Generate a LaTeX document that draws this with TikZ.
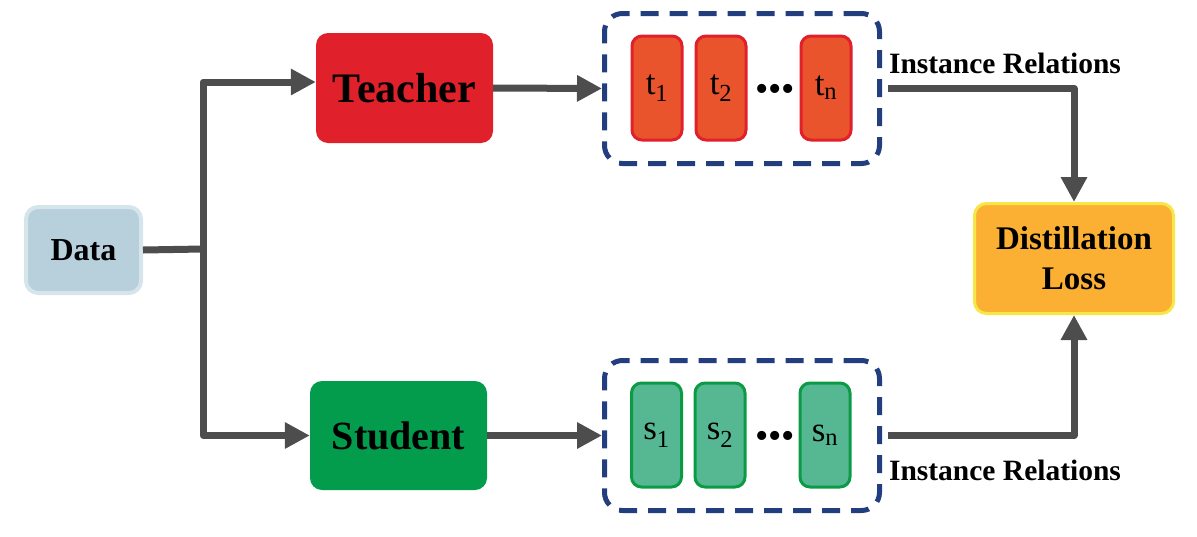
\documentclass[tikz,border=0pt]{standalone}
\usepackage{fontspec}
\setmainfont{Liberation Serif}
\usetikzlibrary{arrows.meta}
\definecolor{datafill}{HTML}{B8CFDC}
\definecolor{databorder}{HTML}{D6E5EC}
\definecolor{teacherred}{HTML}{E0212B}
\definecolor{tfill}{HTML}{E9542C}
\definecolor{studentgreen}{HTML}{039B4C}
\definecolor{sfill}{HTML}{55B893}
\definecolor{sborder}{HTML}{0B9B45}
\definecolor{lossfill}{HTML}{FBB034}
\definecolor{lossborder}{HTML}{F6E646}
\definecolor{navy}{HTML}{233E7E}
\definecolor{flowgray}{HTML}{4D4D4D}

\begin{document}
\begin{tikzpicture}[x=1pt,y=-1pt,
    box/.style={rectangle,rounded corners=12pt,inner sep=0pt,font=\bfseries},
    inst/.style={rectangle,rounded corners=10pt,line width=3pt,minimum width=50pt,
      minimum height=104pt,inner sep=0pt,font=\fontsize{35}{35}\selectfont},
    group/.style={rectangle,rounded corners=18pt,draw=navy,line width=5pt,
      dash pattern=on 18pt off 11pt,minimum width=275pt,minimum height=150pt},
    flow/.style={draw=flowgray,line width=7pt,line join=round},
    flowarrow/.style={flow,-{Triangle[length=25pt,width=25pt]}}]
    \useasboundingbox (0,0) rectangle (1197,536);
    \node[box,fill=datafill,draw=databorder,line width=4pt,minimum width=115pt,
      minimum height=86pt,font=\bfseries\fontsize{32}{32}\selectfont] at (83.5,250) (data) {Data};
    \node[box,fill=teacherred,minimum width=177pt,minimum height=110pt,
      font=\bfseries\fontsize{42}{42}\selectfont] at (404.5,88) (teacher) {Teacher};
    \node[box,fill=studentgreen,minimum width=177pt,minimum height=109pt,
      font=\bfseries\fontsize{40}{40}\selectfont] at (398.5,435.5) (student) {Student};
    \node[box,fill=lossfill,draw=lossborder,line width=3pt,minimum width=199pt,
      minimum height=110pt,align=center,font=\bfseries\fontsize{33}{40}\selectfont]
      at (1074,258.5) (loss) {Distillation\\Loss};
    % teacher relations
    \node[group] at (742,88.5) (tgroup) {};
    \node[inst,fill=tfill,draw=teacherred] at (657,88) (t1) {t\textsubscript{1}};
    \node[inst,fill=tfill,draw=teacherred] at (721,88) (t2) {t\textsubscript{2}};
    \node[inst,fill=tfill,draw=teacherred] at (826,88) (tn) {t\textsubscript{n}};
    \node[font=\fontsize{38}{38}\selectfont] at (775,93) (tdots) {\textbullet\textbullet\textbullet};
    % student relations
    \node[group] at (742,435.5) (sgroup) {};
    \node[inst,fill=sfill,draw=sborder] at (656.5,435) (s1) {s\textsubscript{1}};
    \node[inst,fill=sfill,draw=sborder] at (720,435) (s2) {s\textsubscript{2}};
    \node[inst,fill=sfill,draw=sborder] at (825,435) (sn) {s\textsubscript{n}};
    \node[font=\fontsize{38}{38}\selectfont] at (775,440) (sdots) {\textbullet\textbullet\textbullet};
    \node[font=\bfseries\fontsize{29.5}{30}\selectfont] at (1005,63) (trel) {Instance Relations};
    \node[font=\bfseries\fontsize{29.5}{30}\selectfont] at (1005,470) (srel) {Instance Relations};
    % connectors
    \coordinate (split) at (203,249);
    \draw[flow] (data.east) -- (split);
    \draw[flowarrow] (split) |- ([yshift=6pt]teacher.west);
    \draw[flowarrow] (split) |- (student.west);
    \draw[flowarrow] (teacher.east) -- (tgroup.west);
    \draw[flowarrow] (student.east) -- (sgroup.west);
    \draw[flowarrow] ([xshift=6pt]tgroup.east) -| (loss.north);
    \draw[flowarrow] ([xshift=6pt]sgroup.east) -| (loss.south);
\end{tikzpicture}
\end{document}
